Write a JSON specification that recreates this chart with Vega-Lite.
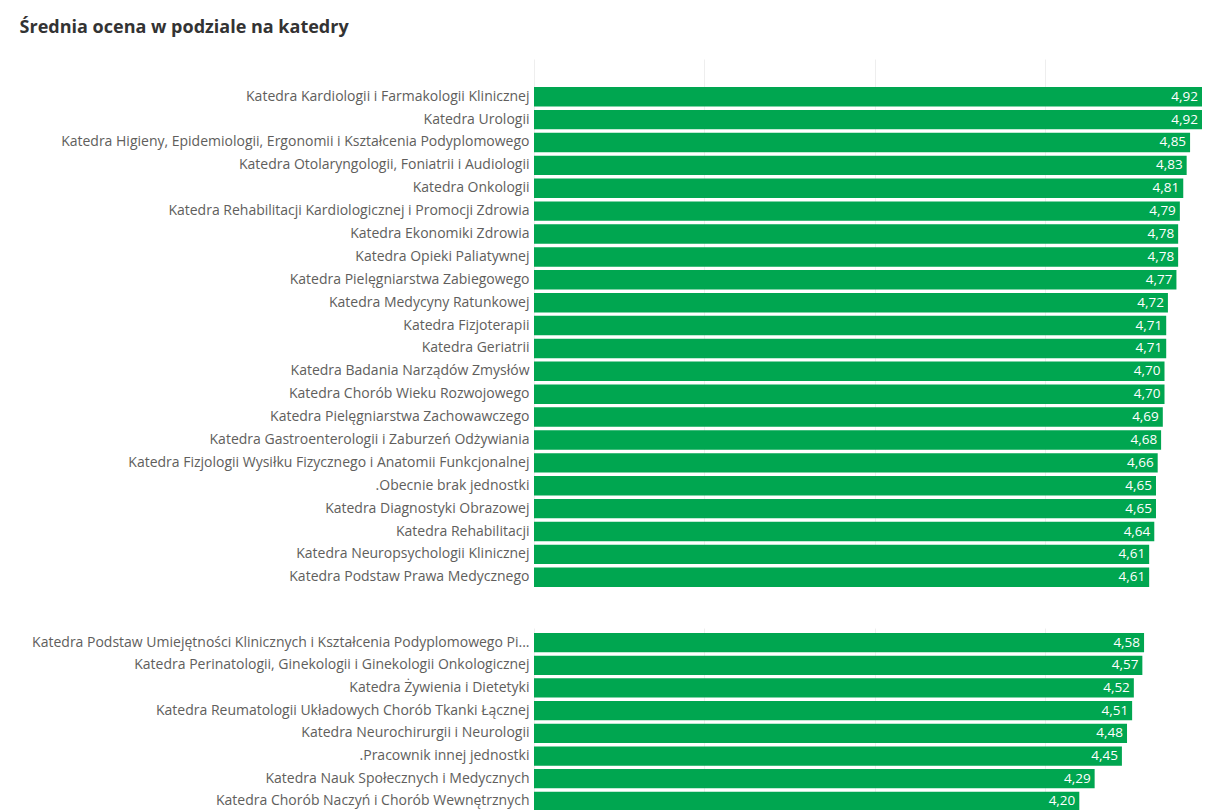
{
  "$schema": "https://vega.github.io/schema/vega-lite/v6.json",
  "background": "white",
  "padding": {"left": 19, "top": 19, "right": 0, "bottom": 0},
  "title": {"text": "Średnia ocena w podziale na katedry", "anchor": "start", "fontSize": 18, "fontWeight": "bold", "color": "#333333", "font": "Open Sans", "offset": 12, "dx": -12},
  "datasets": {
    "top": [
      {"katedra": "Katedra Kardiologii i Farmakologii Klinicznej", "ocena": 4.92},
      {"katedra": "Katedra Urologii", "ocena": 4.92},
      {"katedra": "Katedra Higieny, Epidemiologii, Ergonomii i Kształcenia Podyplomowego", "ocena": 4.85},
      {"katedra": "Katedra Otolaryngologii, Foniatrii i Audiologii", "ocena": 4.83},
      {"katedra": "Katedra Onkologii", "ocena": 4.81},
      {"katedra": "Katedra Rehabilitacji Kardiologicznej i Promocji Zdrowia", "ocena": 4.79},
      {"katedra": "Katedra Ekonomiki Zdrowia", "ocena": 4.78},
      {"katedra": "Katedra Opieki Paliatywnej", "ocena": 4.78},
      {"katedra": "Katedra Pielęgniarstwa Zabiegowego", "ocena": 4.77},
      {"katedra": "Katedra Medycyny Ratunkowej", "ocena": 4.72},
      {"katedra": "Katedra Fizjoterapii", "ocena": 4.71},
      {"katedra": "Katedra Geriatrii", "ocena": 4.71},
      {"katedra": "Katedra Badania Narządów Zmysłów", "ocena": 4.70},
      {"katedra": "Katedra Chorób Wieku Rozwojowego", "ocena": 4.70},
      {"katedra": "Katedra Pielęgniarstwa Zachowawczego", "ocena": 4.69},
      {"katedra": "Katedra Gastroenterologii i Zaburzeń Odżywiania", "ocena": 4.68},
      {"katedra": "Katedra Fizjologii Wysiłku Fizycznego i Anatomii Funkcjonalnej", "ocena": 4.66},
      {"katedra": ".Obecnie brak jednostki", "ocena": 4.65},
      {"katedra": "Katedra Diagnostyki Obrazowej", "ocena": 4.65},
      {"katedra": "Katedra Rehabilitacji", "ocena": 4.64},
      {"katedra": "Katedra Neuropsychologii Klinicznej", "ocena": 4.61},
      {"katedra": "Katedra Podstaw Prawa Medycznego", "ocena": 4.61}
    ],
    "bottom": [
      {"katedra": "Katedra Podstaw Umiejętności Klinicznych i Kształcenia Podyplomowego Pi...", "ocena": 4.58},
      {"katedra": "Katedra Perinatologii, Ginekologii i Ginekologii Onkologicznej", "ocena": 4.57},
      {"katedra": "Katedra Żywienia i Dietetyki", "ocena": 4.52},
      {"katedra": "Katedra Reumatologii Układowych Chorób Tkanki Łącznej", "ocena": 4.51},
      {"katedra": "Katedra Neurochirurgii i Neurologii", "ocena": 4.48},
      {"katedra": ".Pracownik innej jednostki", "ocena": 4.45},
      {"katedra": "Katedra Nauk Społecznych i Medycznych", "ocena": 4.29},
      {"katedra": "Katedra Chorób Naczyń i Chorób Wewnętrznych", "ocena": 4.20}
    ]
  },
  "spacing": 25,
  "vconcat": [
    {
      "width": 668,
      "height": 548,
      "data": {"name": "top"},
      "encoding": {
        "y": {"field": "katedra", "type": "nominal", "sort": null, "title": null,
              "scale": {"range": [38, 538], "paddingInner": 0.15, "paddingOuter": 0}},
        "x": {"field": "ocena", "type": "quantitative", "title": null,
              "scale": {"domain": [1, 4.92], "zero": false, "nice": false},
              "axis": {"values": [1, 2, 3, 4], "labels": false, "ticks": false, "domain": false, "grid": true, "gridColor": "#eeeeee"}}
      },
      "layer": [
        {"mark": {"type": "bar", "color": "#00A650"}, "encoding": {"x2": {"datum": 1}}},
        {"mark": {"type": "text", "align": "right", "dx": -4, "color": "white", "fontSize": 13.5, "font": "Open Sans"},
         "encoding": {"text": {"field": "ocena", "type": "quantitative", "format": ".2f"}}}
      ]
    },
    {
      "width": 668,
      "height": 195,
      "data": {"name": "bottom"},
      "encoding": {
        "y": {"field": "katedra", "type": "nominal", "sort": null, "title": null,
              "scale": {"range": [11, 189], "paddingInner": 0.15, "paddingOuter": 0}},
        "x": {"field": "ocena", "type": "quantitative", "title": null,
              "scale": {"domain": [1, 4.92], "zero": false, "nice": false},
              "axis": {"values": [1, 2, 3, 4], "labels": false, "ticks": false, "domain": false, "grid": true, "gridColor": "#eeeeee"}}
      },
      "layer": [
        {"mark": {"type": "bar", "color": "#00A650"}, "encoding": {"x2": {"datum": 1}}},
        {"mark": {"type": "text", "align": "right", "dx": -4, "color": "white", "fontSize": 13.5, "font": "Open Sans"},
         "encoding": {"text": {"field": "ocena", "type": "quantitative", "format": ".2f"}}}
      ]
    }
  ],
  "config": {
    "locale": {"number": {"decimal": ",", "thousands": " ", "grouping": [3], "currency": ["", " zł"]}},
    "view": {"stroke": null},
    "font": "Open Sans",
    "axisY": {"labelFontSize": 14, "labelColor": "#605E5C", "labelPadding": 5, "labelLimit": 600, "domain": false, "ticks": false, "labelFont": "Open Sans"}
  }
}
